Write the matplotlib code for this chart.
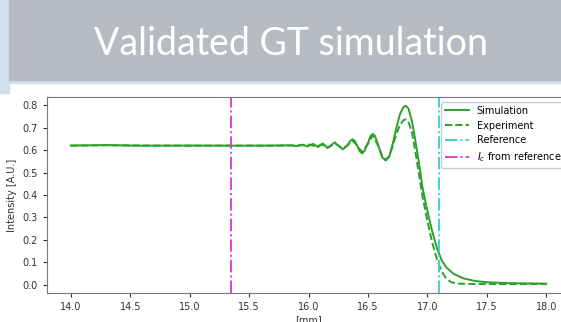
import matplotlib
matplotlib.use('Agg')
import matplotlib.pyplot as plt
from matplotlib.patches import Rectangle

# intensity profiles
sim_x = [14.00, 14.30, 14.60, 15.00, 15.40, 15.70, 15.85, 15.90, 15.95, 15.99,
         16.04, 16.08, 16.12, 16.16, 16.19, 16.22, 16.25, 16.29, 16.33, 16.35,
         16.37, 16.39, 16.41, 16.43, 16.45, 16.47, 16.50, 16.52, 16.54, 16.56,
         16.59, 16.62, 16.65, 16.68, 16.71, 16.74, 16.77, 16.80, 16.82, 16.84,
         16.87, 16.90, 16.93, 16.96, 17.00, 17.04, 17.08, 17.12, 17.16, 17.22,
         17.30, 17.40, 17.50, 17.70, 18.00]
sim_y = [0.620, 0.622, 0.619, 0.620, 0.619, 0.620, 0.621, 0.617, 0.624, 0.616,
         0.627, 0.613, 0.629, 0.609, 0.620, 0.634, 0.620, 0.603, 0.622, 0.640,
         0.648, 0.640, 0.618, 0.595, 0.585, 0.595, 0.630, 0.660, 0.672, 0.662,
         0.615, 0.568, 0.553, 0.572, 0.630, 0.700, 0.760, 0.792, 0.796, 0.785,
         0.730, 0.640, 0.540, 0.430, 0.330, 0.240, 0.165, 0.110, 0.078, 0.050,
         0.030, 0.018, 0.012, 0.008, 0.006]

exp_x = [14.00, 14.30, 14.60, 15.00, 15.40, 15.70, 15.85, 15.95, 16.01, 16.07,
         16.11, 16.16, 16.22, 16.29, 16.33, 16.37, 16.41, 16.45, 16.50, 16.54,
         16.59, 16.62, 16.65, 16.68, 16.71, 16.74, 16.77, 16.80, 16.82, 16.84,
         16.87, 16.90, 16.93, 16.96, 17.00, 17.04, 17.08, 17.12, 17.16, 17.20,
         17.26, 17.40, 18.00]
exp_y = [0.619, 0.621, 0.620, 0.619, 0.620, 0.619, 0.620, 0.621, 0.624, 0.615,
         0.625, 0.611, 0.630, 0.606, 0.622, 0.642, 0.620, 0.590, 0.628, 0.665,
         0.615, 0.572, 0.558, 0.572, 0.620, 0.672, 0.712, 0.733, 0.736, 0.726,
         0.680, 0.590, 0.490, 0.390, 0.285, 0.190, 0.115, 0.060, 0.028, 0.012,
         0.006, 0.004, 0.004]

ref_x = 17.10
ic_x = 15.35
xticks = [14.0, 14.5, 15.0, 15.5, 16.0, 16.5, 17.0, 17.5, 18.0]

W, H = 561, 322
fig = plt.figure(figsize=(W / 100, H / 100), dpi=100)
fig.patch.set_facecolor('white')

# slide decoration: blue frame strips and grey title banner
light_blue = '#cfdfee'
fig.patches.append(Rectangle((0, (H - 93) / H), 9 / W, 93 / H,
                             transform=fig.transFigure, color=light_blue, zorder=0))
fig.patches.append(Rectangle((0, (H - 83) / H), 1, 3 / H,
                             transform=fig.transFigure, color=light_blue, zorder=0))
fig.patches.append(Rectangle((9 / W, (H - 80) / H), 1, 80 / H,
                             transform=fig.transFigure, color='#b7bcc4', zorder=1))
fig.text(291 / W, (H - 44) / H, 'Validated GT simulation', color='white',
         fontsize=27, family='Lato', ha='center', va='center', zorder=2)

ax = fig.add_axes([47 / W, 29 / H, 523 / W, 196 / H])
ax.plot(sim_x, sim_y, '-', color='tab:green', lw=1.4, label='Simulation')
ax.plot(exp_x, exp_y, '--', color='tab:green', lw=1.4, label='Experiment')
ax.axvline(ref_x, color='#3fd0d6', ls='-.', lw=1.4, label='Reference')
ax.axvline(ic_x, color='#dd40dd', ls='-.', lw=1.4, label='$I_c$ from reference')

ax.set_xticks(xticks)
ax.set_yticks([0.0, 0.1, 0.2, 0.3, 0.4, 0.5, 0.6, 0.7, 0.8])
ax.tick_params(labelsize=7, colors='#333333', length=3)
for s in ax.spines.values():
    s.set_color('#777777')
ax.set_xlabel('[mm]', fontsize=7, color='#333333', labelpad=2)
ax.set_ylabel('Intensity [A.U.]', fontsize=7, color='#333333')
ax.legend(loc='upper right', fontsize=7, handlelength=2.5, framealpha=1)

fig.savefig('out.png', dpi=100)
